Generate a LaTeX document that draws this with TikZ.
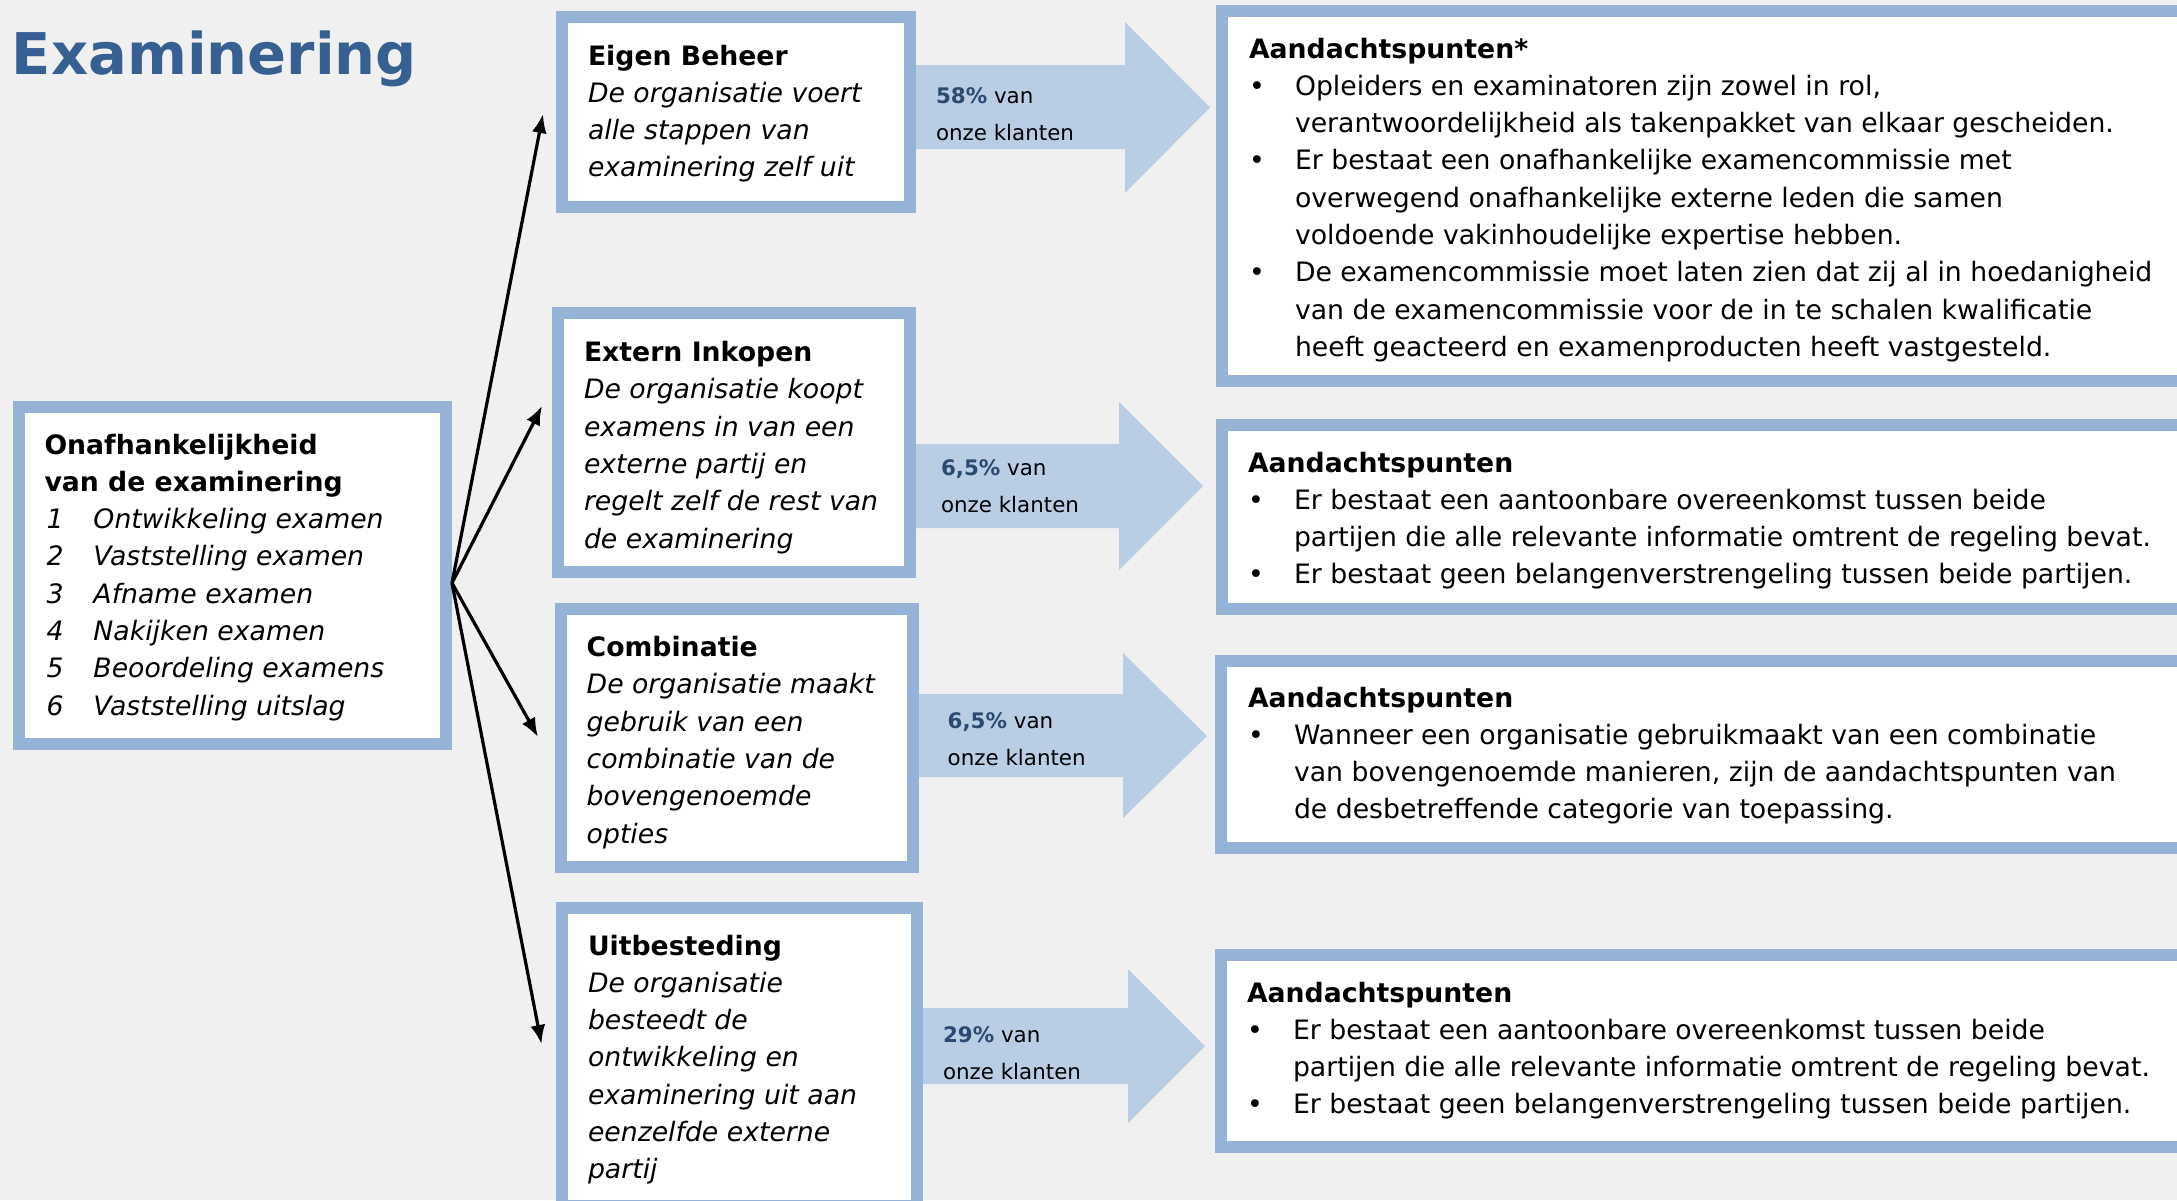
\documentclass[tikz,border=0pt]{standalone}
\usepackage{fontspec}
\setmainfont{DejaVu Sans}
\usetikzlibrary{arrows.meta}
\definecolor{bg}{HTML}{F0F0F0}
\definecolor{bord}{HTML}{95B3D7}
\definecolor{afill}{HTML}{B9CDE5}
\definecolor{ttl}{HTML}{366092}
\definecolor{pct}{HTML}{2B4A70}
\newcommand\mybox[5]{\node[box, minimum width={#4-#2-12}, minimum height={#5-#3-12}] (#1) at (#2+6,#3+6) {};}
\newcommand\bodyfont{\fontsize{26.7pt}{37.3pt}\selectfont}
\newcommand\smallfont{\fontsize{21.4pt}{37.6pt}\selectfont}
\newcommand\bul{\makebox[46pt][l]{\textbullet}}
\newcommand\hang{\hspace*{46pt}}
\begin{document}
\begin{tikzpicture}[x=1pt,y=-1pt,
  box/.style={draw=bord, fill=white, line width=12pt, inner sep=0pt, outer sep=0pt, anchor=north west},
  txt/.style={anchor=base west, inner sep=0pt, outer sep=0pt},
  fat/.style={fill=afill},
  conn/.style={-{Latex[length=19pt,width=15pt]}, line width=3.2pt, black}]
\useasboundingbox[fill=bg] (0,0) rectangle (2177,1200);

% fat arrows
\fill[fat] (910,65) -- (1125,65) -- (1125,22) -- (1210,107.5) -- (1125,193) -- (1125,149) -- (910,149) -- cycle;
\fill[fat] (910,444) -- (1119,444) -- (1119,402) -- (1203,486) -- (1119,570) -- (1119,528) -- (910,528) -- cycle;
\fill[fat] (912,694) -- (1123,694) -- (1123,653) -- (1207,736) -- (1123,818) -- (1123,777) -- (912,777) -- cycle;
\fill[fat] (916,1008) -- (1128,1008) -- (1128,969) -- (1205,1046) -- (1128,1123) -- (1128,1084) -- (916,1084) -- cycle;

% boxes
\mybox{L}{12.5}{401}{452}{750}
\mybox{B1}{556}{11}{916}{212.5}
\mybox{B2}{552}{307}{916}{578}
\mybox{B3}{555}{603}{918.5}{873}
\mybox{B4}{556}{902}{922.5}{1212}
\mybox{R1}{1215.6}{5}{2200}{387}
\mybox{R2}{1216}{419}{2200}{615}
\mybox{R3}{1215}{654.5}{2200}{854}
\mybox{R4}{1215}{949}{2200}{1153}

% title
\node[txt, text=ttl, font=\bfseries\fontsize{57.5pt}{60pt}\selectfont] (title) at (12,74) {Examinering};

% left box text
\node[txt] (Lt) at (44.5,454) {\parbox[t]{400pt}{\bodyfont
\textbf{Onafhankelijkheid}\\
\textbf{van de examinering}\\
\itshape
\hspace*{2pt}\makebox[47pt][l]{1}Ontwikkeling examen\\
\hspace*{2pt}\makebox[47pt][l]{2}Vaststelling examen\\
\hspace*{2pt}\makebox[47pt][l]{3}Afname examen\\
\hspace*{2pt}\makebox[47pt][l]{4}Nakijken examen\\
\hspace*{2pt}\makebox[47pt][l]{5}Beoordeling examens\\
\hspace*{2pt}\makebox[47pt][l]{6}Vaststelling uitslag}};

% middle boxes text
\node[txt] (B1t) at (588,65) {\parbox[t]{400pt}{\bodyfont
\textbf{Eigen Beheer}\\
\itshape De organisatie voert\\
alle stappen van\\
examinering zelf uit}};
\node[txt] (B2t) at (584,361.6) {\parbox[t]{400pt}{\bodyfont
\textbf{Extern Inkopen}\\
\itshape De organisatie koopt\\
examens in van een\\
externe partij en\\
regelt zelf de rest van\\
de examinering}};
\node[txt] (B3t) at (586.7,656.6) {\parbox[t]{400pt}{\bodyfont
\textbf{Combinatie}\\
\itshape De organisatie maakt\\
gebruik van een\\
combinatie van de\\
bovengenoemde\\
opties}};
\node[txt] (B4t) at (588,955) {\parbox[t]{400pt}{\bodyfont
\textbf{Uitbesteding}\\
\itshape De organisatie\\
besteedt de\\
ontwikkeling en\\
examinering uit aan\\
eenzelfde externe\\
partij}};

% arrow labels
\node[txt] (A1t) at (936,103) {\parbox[t]{200pt}{\smallfont\textcolor{pct}{\textbf{58\%}} van\\onze klanten}};
\node[txt] (A2t) at (941,475) {\parbox[t]{200pt}{\smallfont\textcolor{pct}{\textbf{6,5\%}} van\\onze klanten}};
\node[txt] (A3t) at (947.7,728) {\parbox[t]{200pt}{\smallfont\textcolor{pct}{\textbf{6,5\%}} van\\onze klanten}};
\node[txt] (A4t) at (943,1042) {\parbox[t]{200pt}{\smallfont\textcolor{pct}{\textbf{29\%}} van\\onze klanten}};

% right boxes text
\node[txt] (R1t) at (1249,58) {\parbox[t]{1000pt}{\bodyfont
\textbf{Aandachtspunten*}\\
\bul Opleiders en examinatoren zijn zowel in rol,\\
\hang verantwoordelijkheid als takenpakket van elkaar gescheiden.\\
\bul Er bestaat een onafhankelijke examencommissie met\\
\hang overwegend onafhankelijke externe leden die samen\\
\hang voldoende vakinhoudelijke expertise hebben.\\
\bul De examencommissie moet laten zien dat zij al in hoedanigheid\\
\hang van de examencommissie voor de in te schalen kwalificatie\\
\hang heeft geacteerd en examenproducten heeft vastgesteld.}};
\node[txt] (R2t) at (1248,472) {\parbox[t]{1000pt}{\bodyfont
\textbf{Aandachtspunten}\\
\bul Er bestaat een aantoonbare overeenkomst tussen beide\\
\hang partijen die alle relevante informatie omtrent de regeling bevat.\\
\bul Er bestaat geen belangenverstrengeling tussen beide partijen.}};
\node[txt] (R3t) at (1248,707) {\parbox[t]{1000pt}{\bodyfont
\textbf{Aandachtspunten}\\
\bul Wanneer een organisatie gebruikmaakt van een combinatie\\
\hang van bovengenoemde manieren, zijn de aandachtspunten van\\
\hang de desbetreffende categorie van toepassing.}};
\node[txt] (R4t) at (1247,1002) {\parbox[t]{1000pt}{\bodyfont
\textbf{Aandachtspunten}\\
\bul Er bestaat een aantoonbare overeenkomst tussen beide\\
\hang partijen die alle relevante informatie omtrent de regeling bevat.\\
\bul Er bestaat geen belangenverstrengeling tussen beide partijen.}};

% connectors
\coordinate (o) at (452,583);
\coordinate (e1) at (543,114);
\coordinate (e2) at (542,406);
\coordinate (e3) at (538,737);
\coordinate (e4) at (541.5,1044);
\draw[conn] (o) -- (e1);
\draw[conn] (o) -- (e2);
\draw[conn] (o) -- (e3);
\draw[conn] (o) -- (e4);
\end{tikzpicture}
\end{document}
